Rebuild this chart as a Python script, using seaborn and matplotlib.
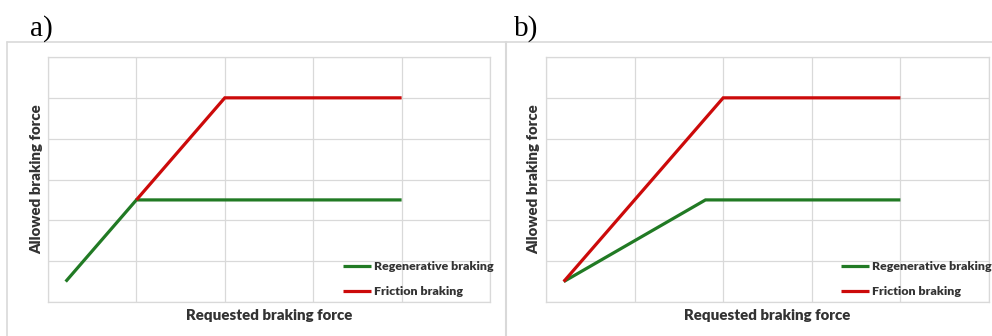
import numpy as np
import pandas as pd
import matplotlib
matplotlib.use("Agg")
import matplotlib.pyplot as plt
from matplotlib.lines import Line2D
import seaborn as sns

sns.set_theme(style="white")
plt.rcParams['font.family'] = ['Lato', 'DejaVu Sans']

# ---- data ----
series_names = ["Regenerative braking", "Friction braking"]
a_regen_x = [0.2, 1.0, 4.0]
a_regen_y = [0.5, 2.5, 2.5]
a_fric_x = [1.0, 2.0, 4.0]
a_fric_y = [2.5, 5.0, 5.0]
b_regen_x = [0.2, 1.8, 4.0]
b_regen_y = [0.5, 2.5, 2.5]
b_fric_x = [0.2, 2.0, 4.0]
b_fric_y = [0.5, 5.0, 5.0]
panel_labels = ["a)", "b)"]
x_label = "Requested braking force"
y_label = "Allowed braking force"

colors = {"Regenerative braking": "#217A24", "Friction braking": "#CC0A0A"}
GRID = "#D9D9D9"
TXT = "#333333"

def make_df(rx, ry, fx, fy):
    return pd.concat([
        pd.DataFrame({"x": rx, "y": ry, "series": series_names[0]}),
        pd.DataFrame({"x": fx, "y": fy, "series": series_names[1]}),
    ], ignore_index=True)

dfs = [make_df(a_regen_x, a_regen_y, a_fric_x, a_fric_y),
       make_df(b_regen_x, b_regen_y, b_fric_x, b_fric_y)]

W, H = 992, 336
fig = plt.figure(figsize=(W / 100, H / 100), dpi=100)
fig.patch.set_facecolor("white")

# chart-area frames
fig.add_artist(Line2D([7 / W, 1], [1 - 42 / H] * 2, color=GRID, lw=1.2, transform=fig.transFigure))
fig.add_artist(Line2D([7 / W] * 2, [0, 1 - 42 / H], color=GRID, lw=1.2, transform=fig.transFigure))
fig.add_artist(Line2D([506 / W] * 2, [0, 1 - 42 / H], color=GRID, lw=1.5, transform=fig.transFigure))

panels = [(48, 490), (546, 989)]
label_x = [30, 514]
ylab_x = [37, 534]

for i, (df, (l, r)) in enumerate(zip(dfs, panels)):
    ax = fig.add_axes([l / W, (H - 302) / H, (r - l) / W, 245 / H])
    sns.lineplot(data=df, x="x", y="y", hue="series", palette=colors,
                 linewidth=2.3, sort=False, estimator=None, ax=ax, legend=False)
    for ln in ax.get_lines():
        ln.set_solid_capstyle("butt")
        ln.set_solid_joinstyle("miter")
    ax.set_xlim(0, 5)
    ax.set_ylim(0, 6)
    ax.set_xticks(np.arange(0, 6))
    ax.set_yticks(np.arange(0, 7))
    ax.grid(True, color=GRID, lw=0.9)
    ax.set_axisbelow(True)
    ax.tick_params(left=False, bottom=False, labelleft=False, labelbottom=False)
    for s in ax.spines.values():
        s.set_color(GRID)
        s.set_linewidth(0.9)
    ax.set_xlabel(x_label, fontsize=10.8, fontweight="heavy", color=TXT)
    ax.set_ylabel(y_label, fontsize=10.8, fontweight="heavy", color=TXT)
    ax.xaxis.set_label_coords(0.5, -(315 - 302) / 245, transform=ax.transAxes)
    ax.yaxis.set_label_coords((ylab_x[i] - l) / (r - l), 0.5, transform=ax.transAxes)
    ax.xaxis.label.set_va("center")
    ax.yaxis.label.set_va("center")

    handles = [Line2D([], [], color=colors[n], lw=2.3, solid_capstyle="butt") for n in series_names]
    ax.legend(handles, series_names, loc="upper left",
              bbox_to_anchor=((343 + (546 - 48) * i - l) / (r - l), (302 - 261) / 245),
              frameon=False, prop={"weight": "heavy", "size": 8.9},
              handlelength=2.25, handletextpad=0.22, labelspacing=1.12,
              borderpad=0, borderaxespad=0, labelcolor=TXT)

    fig.text(label_x[i] / W, 1 - 29 / H, panel_labels[i], fontsize=21,
             family="Liberation Serif", va="center", ha="left", color="black")

fig.savefig("out.png", dpi=100, facecolor="white")
